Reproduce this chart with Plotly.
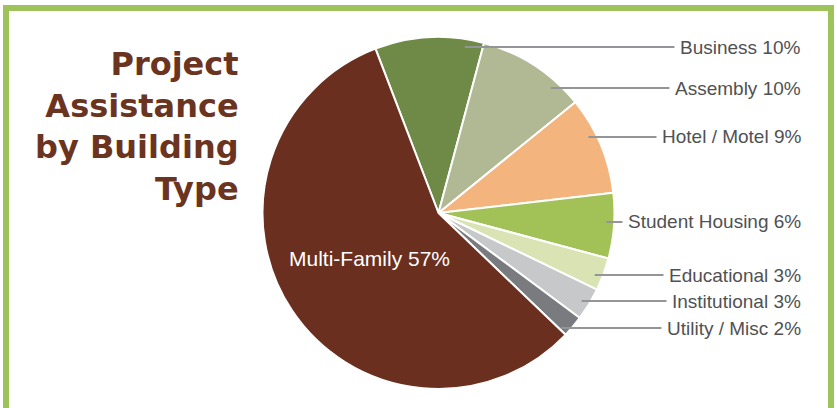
import math
import plotly.graph_objects as go

# ---- data ----
categories = ["Business", "Assembly", "Hotel / Motel", "Student Housing",
              "Educational", "Institutional", "Utility / Misc", "Multi-Family"]
shares = [10, 10, 9, 6, 3, 3, 2, 57]
colors = ["#6f8a47", "#b1b894", "#f3b47d", "#a2c257",
          "#d9e3b4", "#c7c8ca", "#7a7b7e", "#6a2f1e"]
title_lines = ["Project", "Assistance", "by Building", "Type"]

# ---- layout constants (pixels) ----
W, H = 837, 408
CX, CY, R = 438.5, 213.0, 176.0
ROT = -21
label_rows = [47, 88, 137, 222, 275, 301, 328]   # rows for the outside labels
label_right = 802
pad = 5
label_color = "#505153"
line_color = "#939598"
LABEL_FONT = "Liberation Sans, Arial, sans-serif"

fig = go.Figure(go.Pie(
    labels=categories,
    values=shares,
    sort=False,
    direction="clockwise",
    rotation=ROT,
    marker=dict(colors=colors, line=dict(color="white", width=2)),
    textinfo="none",
    hoverinfo="label+percent",
    showlegend=False,
    domain=dict(x=[(CX - R) / W, (CX + R) / W],
                y=[(H - CY - R) / H, (H - CY + R) / H]),
))

total = sum(shares)
annotations = []
# outside labels with horizontal leader lines
for cat, val, row in zip(categories[:-1], shares[:-1], label_rows):
    dy = row - CY
    kr = 0.955 * R
    hx = CX + math.sqrt(max(kr * kr - dy * dy, 0.0))
    annotations.append(dict(
        x=hx / W, y=1 - row / H, xref="paper", yref="paper",
        text=f"{cat} {round(100 * val / total)}%",
        showarrow=True, arrowhead=0, arrowwidth=2, arrowcolor=line_color,
        axref="pixel", ayref="pixel", ax=(label_right + pad) - hx, ay=0,
        xanchor="right", yanchor="middle", borderpad=pad,
        font=dict(family=LABEL_FONT, size=19, color=label_color),
    ))

# inside label for the largest slice, placed on its mid angle
start = ROT + 360 * sum(shares[:-1]) / total
mid = math.radians(start + 360 * shares[-1] / total / 2)
rr = 0.47 * R
mx = CX + rr * math.sin(mid)
my = CY - rr * math.cos(mid)
annotations.append(dict(
    x=mx / W, y=1 - my / H, xref="paper", yref="paper",
    text=f"{categories[-1]} {round(100 * shares[-1] / total)}%",
    showarrow=False, xanchor="center", yanchor="middle",
    font=dict(family=LABEL_FONT, size=21, color="white"),
))

# title block
annotations.append(dict(
    x=241 / W, y=1 - 126 / H, xref="paper", yref="paper",
    text="<br>".join(title_lines), align="right",
    showarrow=False, xanchor="right", yanchor="middle",
    font=dict(family="DejaVu Sans, sans-serif", size=32, color="#6b3420",
              weight="bold"),
))

fig.update_layout(
    width=W, height=H,
    margin=dict(l=0, r=0, t=0, b=0),
    paper_bgcolor="white", plot_bgcolor="white",
    annotations=annotations,
    shapes=[dict(type="rect", xref="paper", yref="paper",
                 x0=6 / W, x1=831 / W, y0=-0.1, y1=1 - 8 / H,
                 line=dict(color="#9fc35b", width=6), layer="below")],
)

fig.write_html("out.html", config={"displayModeBar": False},
               post_script="document.body.style.margin='0';")
